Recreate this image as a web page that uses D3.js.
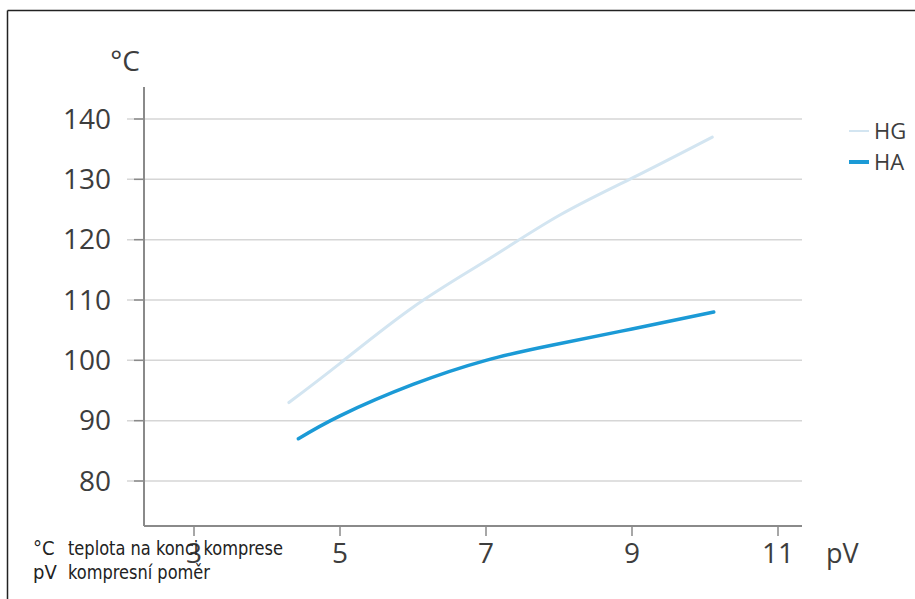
<!DOCTYPE html>
<html><head><meta charset="utf-8">
<script src="https://cdn.jsdelivr.net/npm/d3@7"></script>
<style>body{margin:0;background:#fff}svg{display:block}</style>
</head><body>
<script>
const xTicks = [3, 5, 7, 9, 11];
const yTicks = [80, 90, 100, 110, 120, 130, 140];
const seriesNames = ["HG", "HA"];
const hgX = [4.3, 5, 6, 7, 8, 9, 10.1];
const hgY = [93, 99.5, 108.8, 116.5, 124, 130.2, 137];
const haX = [4.43, 5, 6, 7, 7.9, 9, 10.12];
const haY = [87, 90.8, 96, 100, 102.5, 105.2, 108];
const colors = ["#d3e5f1", "#1b9ad6"];
const footnotes = [["°C", "teplota na konci komprese"], ["pV", "kompresní poměr"]];

const W = 915, H = 599;
const svg = d3.select("body").append("svg").attr("width", W).attr("height", H);

// frame (top and left edges)
svg.append("line").attr("x1", 7.5).attr("x2", W).attr("y1", 10.5).attr("y2", 10.5).attr("stroke", "#222").attr("stroke-width", 1.5);
svg.append("line").attr("x1", 7.5).attr("x2", 7.5).attr("y1", 10.5).attr("y2", H).attr("stroke", "#222").attr("stroke-width", 1.5);

const x = d3.scaleLinear().domain([3, 11]).range([194, 778]);
const y = d3.scaleLinear().domain([80, 140]).range([481, 119]);
const x0 = 144, x1 = 802, yBot = 526, yTop = 87;

const font = "'Open Sans', 'Noto Sans', sans-serif";
const txt = "#3d3d3d";

// gridlines
svg.append("g").selectAll("line").data(yTicks).join("line")
  .attr("x1", x0 - 17).attr("x2", x1)
  .attr("y1", d => y(d)).attr("y2", d => y(d))
  .attr("stroke", "#d6d6d6").attr("stroke-width", 1.5);

// y axis
const yAxis = svg.append("g").attr("transform", `translate(${x0},0)`);
yAxis.append("line").attr("x1", 0).attr("x2", 0).attr("y1", yTop).attr("y2", yBot).attr("stroke", "#8a8a8a").attr("stroke-width", 2);
yAxis.selectAll("line.t").data(yTicks).join("line").attr("class", "t")
  .attr("x1", -10).attr("x2", 0).attr("y1", d => y(d)).attr("y2", d => y(d))
  .attr("stroke", "#8a8a8a").attr("stroke-width", 1.5);
yAxis.selectAll("text").data(yTicks).join("text")
  .attr("x", -33).attr("y", d => y(d)).attr("dy", "0.35em")
  .attr("text-anchor", "end").attr("font-family", font).attr("font-size", 28)
  .attr("fill", txt).text(d => d);

// x axis
const xAxis = svg.append("g").attr("transform", `translate(0,${yBot})`);
xAxis.append("line").attr("x1", x0).attr("x2", x1).attr("y1", 0).attr("y2", 0).attr("stroke", "#8a8a8a").attr("stroke-width", 2);
xAxis.selectAll("line.t").data(xTicks).join("line").attr("class", "t")
  .attr("x1", d => x(d)).attr("x2", d => x(d)).attr("y1", 0).attr("y2", 10)
  .attr("stroke", "#8a8a8a").attr("stroke-width", 1.5);
xAxis.selectAll("text").data(xTicks).join("text")
  .attr("x", d => x(d)).attr("y", 37)
  .attr("text-anchor", "middle").attr("font-family", font).attr("font-size", 28)
  .attr("fill", txt).text(d => d);

// axis titles
svg.append("text").attr("x", 125).attr("y", 71).attr("text-anchor", "middle")
  .attr("font-family", font).attr("font-size", 28).attr("fill", txt).text("°C");
svg.append("text").attr("x", 826).attr("y", yBot + 37)
  .attr("font-family", font).attr("font-size", 27).attr("fill", txt).text("pV");

// lines
const line = d3.line().x(d => x(d[0])).y(d => y(d[1])).curve(d3.curveNatural);
const data = [d3.zip(hgX, hgY), d3.zip(haX, haY)];
svg.append("g").selectAll("path").data(data).join("path")
  .attr("d", line).attr("fill", "none")
  .attr("stroke", (d, i) => colors[i]).attr("stroke-width", (d, i) => i === 0 ? 3 : 3.5)
  .attr("stroke-linecap", "round");

// legend
const lg = svg.append("g");
seriesNames.forEach((n, i) => {
  const yy = 131 + i * 31;
  lg.append("line").attr("x1", 849).attr("x2", 869).attr("y1", yy).attr("y2", yy)
    .attr("stroke", colors[i]).attr("stroke-width", i === 0 ? 2 : 4);
  lg.append("text").attr("x", 874).attr("y", yy).attr("dy", "0.35em")
    .attr("font-family", font).attr("font-size", 22).attr("fill", txt).text(n);
});

// footnotes
const fnFont = "'Liberation Sans Narrow', 'DejaVu Sans Condensed', sans-serif";
const fnWidths = [215, 142];
const fn = svg.append("g");
footnotes.forEach((f, i) => {
  const yy = 555 + i * 24;
  fn.append("text").attr("x", 33).attr("y", yy).attr("font-family", fnFont)
    .attr("font-size", 20).attr("fill", "#222").text(f[0]);
  fn.append("text").attr("x", 68).attr("y", yy).attr("font-family", fnFont)
    .attr("font-size", 20).attr("fill", "#222")
    .attr("textLength", fnWidths[i]).attr("lengthAdjust", "spacingAndGlyphs").text(f[1]);
});
</script>
</body></html>
